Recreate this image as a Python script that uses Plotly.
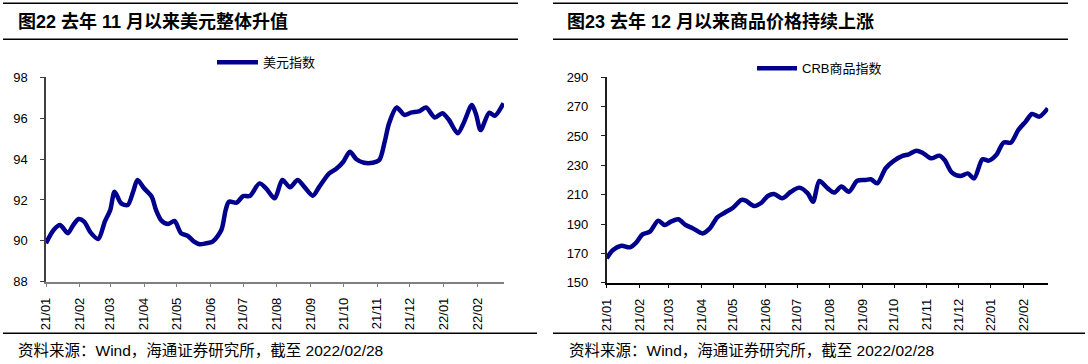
import plotly.graph_objects as go

# ---------------- data ----------------
usd_dates = ['2021-01-01','2021-01-08','2021-01-14','2021-01-21','2021-01-26','2021-01-31','2021-02-05','2021-02-11',
             '2021-02-18','2021-02-24','2021-03-01','2021-03-05','2021-03-11','2021-03-17','2021-03-22','2021-03-26',
             '2021-04-01','2021-04-08','2021-04-12','2021-04-17','2021-04-23','2021-04-29','2021-05-05','2021-05-11',
             '2021-05-17','2021-05-22','2021-05-28','2021-06-03','2021-06-11','2021-06-15','2021-06-18','2021-06-25',
             '2021-07-01','2021-07-07','2021-07-16','2021-07-22','2021-07-30','2021-08-06','2021-08-13','2021-08-20',
             '2021-08-26','2021-09-03','2021-09-09','2021-09-18','2021-09-24','2021-10-01','2021-10-07','2021-10-13',
             '2021-10-20','2021-10-28','2021-11-03','2021-11-08','2021-11-12','2021-11-19','2021-11-26','2021-12-02',
             '2021-12-10','2021-12-16','2021-12-24','2021-12-31','2022-01-06','2022-01-14','2022-01-20','2022-01-27',
             '2022-01-31','2022-02-04','2022-02-12','2022-02-17','2022-02-25']
usd_vals = [89.88,90.53,90.77,90.37,90.77,91.07,90.94,90.40,90.09,90.94,
            91.51,92.40,91.83,91.75,92.40,92.98,92.57,92.16,91.51,90.99,
            90.82,90.97,90.37,90.25,89.96,89.83,89.88,89.96,90.53,91.51,
            91.92,91.87,92.19,92.19,92.81,92.57,92.08,92.98,92.62,92.98,
            92.65,92.21,92.65,93.30,93.50,93.87,94.36,93.99,93.82,93.82,
            93.95,94.85,95.75,96.52,96.16,96.27,96.35,96.52,96.03,96.24,
            95.91,95.26,95.83,96.65,96.16,95.42,96.27,96.12,96.73]

crb_dates = ['2021-01-01','2021-01-07','2021-01-15','2021-01-23','2021-01-29','2021-02-04','2021-02-11','2021-02-19',
             '2021-02-25','2021-03-03','2021-03-10','2021-03-17','2021-03-24','2021-04-02','2021-04-09','2021-04-16',
             '2021-04-23','2021-05-01','2021-05-09','2021-05-13','2021-05-21','2021-05-28','2021-06-03','2021-06-09',
             '2021-06-17','2021-06-25','2021-07-03','2021-07-11','2021-07-16','2021-07-22','2021-07-30','2021-08-05',
             '2021-08-12','2021-08-19','2021-08-27','2021-09-04','2021-09-09','2021-09-15','2021-09-23','2021-10-01',
             '2021-10-09','2021-10-15','2021-10-22','2021-10-28','2021-11-05','2021-11-13','2021-11-18','2021-11-25',
             '2021-12-03','2021-12-10','2021-12-16','2021-12-24','2021-12-30','2022-01-06','2022-01-13','2022-01-20',
             '2022-01-27','2022-02-03','2022-02-09','2022-02-16','2022-02-24']
crb_vals = [166.6,172.3,175.2,174.1,177.3,182.9,184.8,192.3,189.3,191.6,
            193.2,189.3,187.0,183.6,187.0,194.5,197.7,201.1,206.4,205.9,
            202.3,204.5,209.1,210.5,207.5,212.0,214.8,210.9,205.2,219.3,
            214.3,211.4,215.5,212.0,219.5,220.0,220.5,217.7,228.0,233.2,
            236.4,237.5,240.0,238.6,234.8,236.6,233.6,225.0,222.7,224.5,
            221.1,234.1,233.2,237.0,245.5,245.5,254.1,259.8,265.0,263.2,
            268.9]

month_ticks = ['2021-01-01','2021-02-01','2021-03-01','2021-04-01','2021-05-01','2021-06-01','2021-07-01',
               '2021-08-01','2021-09-01','2021-10-01','2021-11-01','2021-12-01','2022-01-01','2022-02-01']
month_labels = ['21/01','21/02','21/03','21/04','21/05','21/06','21/07',
                '21/08','21/09','21/10','21/11','21/12','22/01','22/02']

titles = ['图22 去年 11 月以来美元整体升值', '图23 去年 12 月以来商品价格持续上涨']
legend_names = ['美元指数', 'CRB商品指数']
source_text = '资料来源：Wind，海通证券研究所，截至 2022/02/28'

# ---------------- figure ----------------
W, H = 1088, 364
LINE_COLOR = '#00008c'
FONT = 'Liberation Sans, Arial, Noto Sans CJK SC'

def px(x):
    return x / W

def py(y):
    return 1 - y / H

fig = go.Figure()
fig.add_trace(go.Scatter(x=usd_dates, y=usd_vals, mode='lines', name=legend_names[0],
                         line=dict(color=LINE_COLOR, width=4.5, shape='spline', smoothing=0.8),
                         showlegend=False, xaxis='x', yaxis='y'))
fig.add_trace(go.Scatter(x=crb_dates, y=crb_vals, mode='lines', name=legend_names[1],
                         line=dict(color=LINE_COLOR, width=4.5, shape='spline', smoothing=0.8),
                         showlegend=False, xaxis='x2', yaxis='y2'))

def xaxis_cfg(domain, anchor, end, lc):
    return dict(domain=domain, anchor=anchor, type='date', range=['2021-01-01', end], automargin=False,
                tickmode='array', tickvals=month_ticks, ticktext=month_labels, tickangle=-90,
                ticks='outside', ticklen=4, tickcolor=lc, tickwidth=1,
                showline=True, linecolor=lc, linewidth=1.5, showgrid=False, zeroline=False,
                tickfont=dict(family=FONT, size=13, color='#000000'), ticklabelstandoff=5)

def yaxis_cfg(domain, anchor, rng, dtick, lc):
    return dict(domain=domain, anchor=anchor, range=rng, dtick=dtick, tick0=rng[0], automargin=False,
                ticks='outside', ticklen=4, tickcolor=lc, tickwidth=1,
                showline=True, linecolor=lc, linewidth=1.5, showgrid=False, zeroline=False,
                tickfont=dict(family=FONT, size=13, color='#000000'), ticklabelstandoff=10)

fig.update_layout(
    width=W, height=H, autosize=False,
    margin=dict(l=0, r=0, t=0, b=0),
    paper_bgcolor='white', plot_bgcolor='white',
    showlegend=False,
    xaxis=xaxis_cfg([px(46), px(504)], 'y', '2022-02-25 12:00', '#808080'),
    yaxis=yaxis_cfg([py(281.7), py(77.3)], 'x', [88, 98], 2, '#404040'),
    xaxis2=xaxis_cfg([px(606.7), px(1048.3)], 'y2', '2022-02-24 12:00', '#000000'),
    yaxis2=yaxis_cfg([py(282.7), py(77.3)], 'x2', [150, 290], 20, '#202020'),
)

shapes = []
annotations = []
# rules
for (x0, x1) in [(3, 518), (553, 1068)]:
    for y in (3.3, 39.3):
        shapes.append(dict(type='line', xref='paper', yref='paper', x0=px(x0), x1=px(x1), y0=py(y), y1=py(y),
                           line=dict(color='#000000', width=1.5)))
for (x0, x1) in [(3, 537), (553, 1085)]:
    shapes.append(dict(type='line', xref='paper', yref='paper', x0=px(x0), x1=px(x1), y0=py(333.3), y1=py(333.3),
                       line=dict(color='#000000', width=1.5)))

# legends
for (x0, x1, y, name) in [(217, 258, 62.3, legend_names[0]), (757, 797, 68.3, legend_names[1])]:
    shapes.append(dict(type='line', xref='paper', yref='paper', x0=px(x0), x1=px(x1), y0=py(y), y1=py(y),
                       line=dict(color=LINE_COLOR, width=4.5)))
    annotations.append(dict(xref='paper', yref='paper', x=px(x1 + 3), y=py(y), xanchor='left', yanchor='middle',
                            text=name, showarrow=False, font=dict(family=FONT, size=13, color='#000000')))

# titles
for (x, t) in [(16, titles[0]), (565, titles[1])]:
    annotations.append(dict(xref='paper', yref='paper', x=px(x), y=py(21.5), xanchor='left', yanchor='middle',
                            text='<b>' + t + '</b>', showarrow=False,
                            font=dict(family=FONT, size=18, color='#000000')))
# sources
for x in (16, 567):
    annotations.append(dict(xref='paper', yref='paper', x=px(x), y=py(350), xanchor='left', yanchor='middle',
                            text=source_text, showarrow=False,
                            font=dict(family=FONT, size=15.5, color='#000000')))

fig.update_layout(shapes=shapes, annotations=annotations)
fig.write_html('out.html', config={'displayModeBar': False},
               post_script="document.body.style.margin='0';document.body.style.overflow='hidden';")
